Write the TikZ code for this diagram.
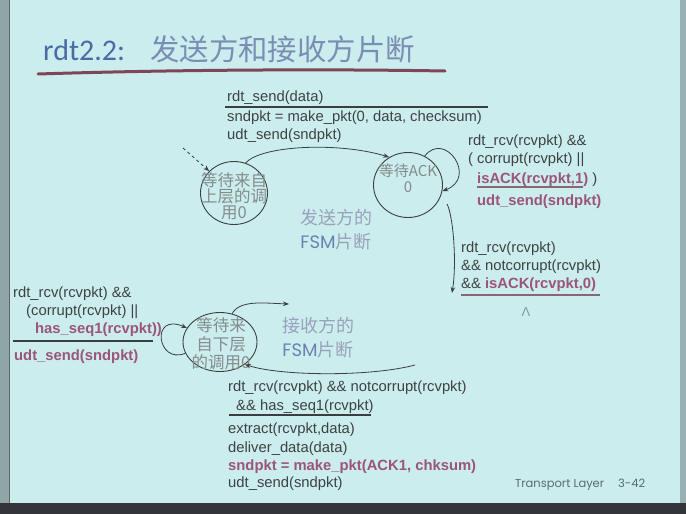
\documentclass[tikz,border=0pt]{standalone}
\usepackage{fontspec}
\setmainfont{Liberation Sans}
\newfontfamily\cjk{Noto Sans CJK SC}
\newfontfamily\ttl{Carlito}
\newfontfamily\footfont{Poppins}
\usetikzlibrary{shapes.geometric,arrows.meta}

\definecolor{bg}{HTML}{CBEDED}
\definecolor{txt}{HTML}{3E4242}
\definecolor{mag}{HTML}{9C5578}
\definecolor{ttlblue}{HTML}{4C6BA6}
\definecolor{ttlcjk}{HTML}{7A8DB4}
\definecolor{uline}{HTML}{7E4656}
\definecolor{edge}{HTML}{3A3E3E}
\definecolor{stxt}{HTML}{848C8C}
\definecolor{fsmcjk}{HTML}{98A2BC}
\definecolor{fsmlat}{HTML}{6C80B2}
\definecolor{pinkrule}{HTML}{8A6575}
\definecolor{bezel}{HTML}{34353A}

\begin{document}
\begin{tikzpicture}[x=1pt,y=-1pt,
  lbl/.style={anchor=base west, inner sep=0pt, text=txt,
    font=\fontsize{14.8}{18}\selectfont},
  hot/.style={lbl, text=mag, font=\fontsize{14.8}{18}\selectfont\bfseries},
  state/.style={ellipse, draw=edge, line width=0.9pt, inner sep=0pt},
  stext/.style={align=center, inner sep=0pt, text=stxt},
  fsm/.style={align=center, inner sep=0pt, font=\cjk\fontsize{18}{24}\selectfont, text=fsmcjk},
  flow/.style={draw=edge, line width=0.8pt, -{Stealth[length=6pt,width=4.5pt]}},
  rule/.style={line width=1.3pt},
]
\useasboundingbox (0,0) rectangle (686,514);

% slide background and frame edges
\fill[bg] (0,0) rectangle (686,514);
\fill[black!30!bg] (0,0) rectangle (9,503);
\draw[black!60, line width=0.8pt] (9,0) -- (9,503);
\fill[black!25!bg] (680,0) rectangle (686,503);
\fill[bezel] (0,503) rectangle (686,514);

% title
\node[anchor=base west, inner sep=0pt, text=ttlblue,
  font=\ttl\fontsize{30}{30}\selectfont] (title) at (43,60) {rdt2.2:};
\node[anchor=base west, inner sep=0pt, text=ttlcjk,
  font=\cjk\fontsize{29.4}{30}\selectfont] (titlecjk) at (150,60) {发送方和接收方片断};
\draw[uline, line width=3pt, line cap=round]
  (38,74) .. controls (180,69.5) and (330,69) .. (445,71);

% sender states
\node[state, minimum width=67pt, minimum height=63pt] (s1) at (234,193) {};
\node[stext, font=\cjk\fontsize{16.5}{16}\selectfont] (s1t) at (234,196)
  {等待来自\\上层的调\\用0};
\node[state, minimum width=69pt, minimum height=65pt] (s2) at (408,185) {};
\node[stext, font=\cjk\fontsize{15}{16}\selectfont] (s2t) at (408,178)
  {等待ACK\\0};

% sender transition labels
\node[lbl] (t1) at (227,101) {rdt\_send(data)};
\draw[edge, rule] (225,107) -- (488,107);
\node[lbl] (t2) at (227,121) {sndpkt = make\_pkt(0, data, checksum)};
\node[lbl] (t3) at (227,139) {udt\_send(sndpkt)};

\node[lbl] (r1) at (468,145) {rdt\_rcv(rcvpkt) \&\&};
\node[lbl] (r2) at (468,163) {( corrupt(rcvpkt) ||};
\node[lbl] (r3) at (477,183) {{\color{mag}\bfseries isACK(rcvpkt,1)} )};
\draw[pinkrule, rule] (477,187) -- (583,187);
\node[hot] (r4) at (477,205) {udt\_send(sndpkt)};

\node[lbl] (r5) at (461,252) {rdt\_rcv(rcvpkt)};
\node[lbl] (r6) at (461,270) {\&\& notcorrupt(rcvpkt)};
\node[lbl] (r7) at (461,288) {\&\& {\color{mag}\bfseries isACK(rcvpkt,0)}};
\draw[pinkrule, rule] (461,295) -- (600,295);
\node[inner sep=0pt, text=black!35!bg, font=\fontsize{13}{13}\selectfont] (lam) at (526,312) {Λ};

\node[fsm] (fsm1) at (336,230) {发送方的\\{\fontspec{Poppins}\color{fsmlat}FSM}片断};

% sender connectors
\coordinate (init) at (183,148);
\draw[flow, dashed] (init) -- (s1);
\draw[flow] (s1.69) .. controls (262,145) and (340,142) .. (s2.124);
\draw[flow] (s2.60) .. controls (445,130) and (478,178) .. (s2.-10);
\coordinate (down) at (452,293);
\draw[flow] (447,204) .. controls (453,215) and (457,262) .. (down);

% receiver state
\node[state, minimum width=74pt, minimum height=59pt] (s3) at (220,342) {};
\node[stext, font=\cjk\fontsize{16.5}{18.5}\selectfont] (s3t) at (221,344)
  {等待来\\自下层\\的调用0};
\node[fsm] (fsm2) at (318,338) {接收方的\\{\fontspec{Poppins}\color{fsmlat}FSM}片断};

% receiver transition labels
\node[lbl] (l1) at (13,297) {rdt\_rcv(rcvpkt) \&\&};
\node[lbl] (l2) at (26,315) {(corrupt(rcvpkt) ||};
\node[hot] (l3) at (35,333) {has\_seq1(rcvpkt))};
\draw[edge, rule] (13,341) -- (153,341);
\node[hot] (l4) at (14,360) {udt\_send(sndpkt)};

\node[lbl] (b1) at (228,391) {rdt\_rcv(rcvpkt) \&\& notcorrupt(rcvpkt)};
\node[lbl] (b2) at (236,410) {\&\& has\_seq1(rcvpkt)};
\draw[edge, rule] (229,415) -- (371,415);
\node[lbl] (b3) at (228,433) {extract(rcvpkt,data)};
\node[lbl] (b4) at (228,452) {deliver\_data(data)};
\node[hot] (b5) at (228,470) {sndpkt = make\_pkt(ACK1, chksum)};
\node[lbl] (b6) at (228,487) {udt\_send(sndpkt)};

% receiver connectors
\coordinate (up) at (289,304);
\draw[flow] (s3.67) .. controls (240,300) and (262,303) .. (up);
\coordinate (back) at (415,365);
\draw[flow] (back) .. controls (370,377) and (280,376) .. (s3.-42);
\draw[flow] (s3.-162) .. controls (157,365) and (150,312) .. (s3.157);

% footer
\node[anchor=base west, inner sep=0pt, text=black!55!bg,
  font=\footfont\fontsize{11.5}{12}\selectfont] (foot) at (515,487)
  {Transport Layer\hspace{14pt}3-42};
\end{tikzpicture}
\end{document}
